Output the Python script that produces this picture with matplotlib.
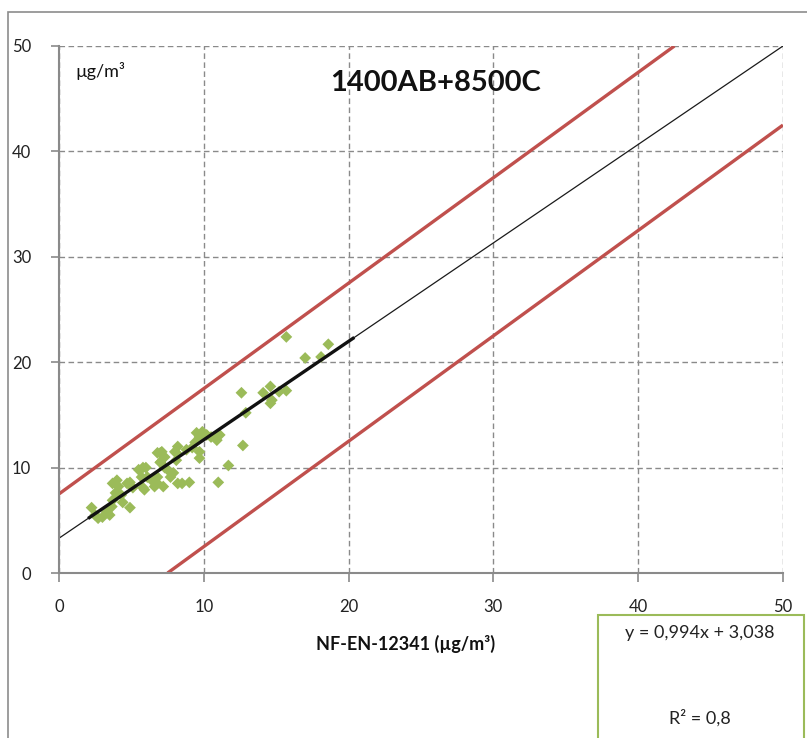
import matplotlib
matplotlib.use("Agg")
import matplotlib.pyplot as plt
from matplotlib.patches import Rectangle

plt.rcParams['font.family'] = ['Lato', 'DejaVu Sans']

# ---- data ----
x_vals = [2.25, 2.5, 2.7, 3.0, 3.3, 3.5, 3.65, 3.7, 3.9, 3.7, 4.0, 4.1, 4.3, 4.4,
          4.9, 4.7, 4.9, 5.1, 5.5, 5.7, 5.8, 6.0, 6.1, 6.4, 6.8, 6.8, 7.0, 7.0,
          7.3, 7.5, 7.7, 7.2, 8.0, 8.1, 8.2, 5.8, 5.9, 6.6, 6.8, 7.1, 7.0, 7.3,
          7.9, 8.1, 8.2, 8.5, 9.0, 8.8, 9.2, 9.4, 9.5, 9.7, 9.7, 9.7, 10.2, 10.5,
          10.9, 11.1, 11.0, 11.7, 12.7, 12.9, 12.6, 15.7, 18.6, 17.0, 18.1, 14.1,
          14.6, 15.2, 15.7, 14.7, 14.6, 9.9, 11.0]
y_vals = [6.2, 5.5, 5.2, 5.3, 5.8, 5.5, 6.3, 6.9, 7.6, 8.5, 8.8, 8.2, 7.4, 6.7,
          6.2, 8.5, 8.6, 8.1, 9.8, 9.1, 8.1, 10.0, 9.1, 8.8, 8.5, 9.1, 10.5, 11.4,
          11.0, 9.8, 9.1, 8.2, 11.5, 10.7, 8.5, 10.0, 7.9, 8.2, 11.4, 11.5, 10.5, 10.0,
          9.5, 11.4, 12.0, 8.5, 8.6, 11.7, 11.9, 12.4, 13.3, 12.9, 11.5, 10.9, 13.1, 12.9,
          12.6, 13.1, 8.6, 10.2, 12.1, 15.2, 17.1, 22.4, 21.7, 20.4, 20.5, 17.1,
          17.7, 17.2, 17.3, 16.4, 16.1, 13.4, 13.1]

ref_line_x = [0, 50]
ref_line_y = [3.3, 50]
trend_x = [2.1, 20.3]
trend_y = [5.26, 22.26]
upper_band_x = [0, 42.5]
upper_band_y = [7.5, 50]
lower_band_x = [7.5, 50]
lower_band_y = [0, 42.5]

ticks = [0, 10, 20, 30, 40, 50]
title = "1400AB+8500C"
unit_label = "µg/m³"
x_label = "NF-EN-12341 (µg/m³)"
eq_text = "y = 0,994x + 3,038"
r2_text = "R² = 0,8"

# ---- figure ----
W, H = 807, 738
fig = plt.figure(figsize=(W / 100, H / 100), dpi=100)

# outer chart frame
fig.patches.append(Rectangle((8 / W, -0.1), 1.2, 1.1 - 12 / H,
                             transform=fig.transFigure, fill=False,
                             edgecolor='#8c8c8c', linewidth=1.2))

ax = fig.add_axes([59 / W, 1 - 573 / H, (783 - 59) / W, (573 - 46) / H])
ax.set_xlim(0, 50)
ax.set_ylim(0, 50)
ax.set_xticks(ticks)
ax.set_yticks(ticks)

ax.grid(True, color='#8a8a8a', linestyle=(0, (4, 2.5)), linewidth=1.0)
ax.set_axisbelow(True)
for s in ['top', 'right']:
    ax.spines[s].set_visible(False)
for s in ['left', 'bottom']:
    ax.spines[s].set_color('#8a8a8a')
    ax.spines[s].set_linewidth(1.5)

ax.tick_params(axis='y', direction='out', length=6, width=1.2, color='#8a8a8a',
               pad=14, labelsize=12, labelcolor='#222222')
ax.tick_params(axis='x', direction='out', length=6.5, width=1.2, color='#8a8a8a',
               pad=12, labelsize=12, labelcolor='#222222')

ax.plot(upper_band_x, upper_band_y, color='#C0504D', linewidth=2.4, solid_capstyle='butt')
ax.plot(lower_band_x, lower_band_y, color='#C0504D', linewidth=2.4, solid_capstyle='butt')
ax.plot(ref_line_x, ref_line_y, color='#1a1a1a', linewidth=0.9)
ax.scatter(x_vals, y_vals, marker='D', s=36, color='#9BBB59', edgecolors='none', zorder=3)
ax.plot(trend_x, trend_y, color='#111111', linewidth=2.4, zorder=4)

ax.text(1.1, 47.6, unit_label, fontsize=13, ha='left', va='center', color='#111111')
ax.text(26.0, 46.5, title, fontsize=21, fontweight='bold', ha='center', va='center',
        color='#111111')

fig.text(406 / W, 1 - 644 / H, x_label, fontsize=13, fontweight='bold',
         ha='center', va='center', color='#111111')

# equation box
fig.patches.append(Rectangle((598 / W, -0.05), (804 - 598) / W, 0.05 + 1 - 615 / H,
                             transform=fig.transFigure, fill=False,
                             edgecolor='#9BBB59', linewidth=1.5))
fig.text(700 / W, 1 - 633 / H, eq_text, fontsize=13, ha='center', va='center', color='#222222')
fig.text(700 / W, 1 - 718 / H, r2_text, fontsize=13, ha='center', va='center', color='#222222')

fig.savefig("out.png", dpi=100)
